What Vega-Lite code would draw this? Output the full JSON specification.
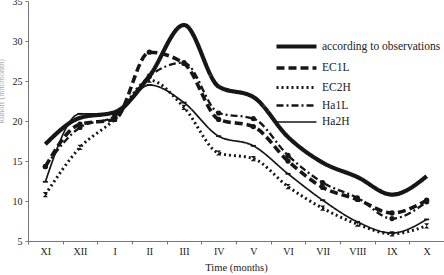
{
  "$schema": "https://vega.github.io/schema/vega-lite/v6.json",
  "width": 416,
  "height": 240,
  "autosize": "none",
  "padding": {"left": 28, "top": 1, "right": 0, "bottom": 34},
  "background": "white",
  "config": {
    "view": {"stroke": null},
    "font": "Liberation Serif",
    "axis": {"labelFont": "Liberation Serif", "titleFont": "Liberation Serif", "labelColor": "#222", "titleColor": "#222", "domainColor": "#777", "tickColor": "#777", "grid": false},
    "legend": {"labelFont": "Liberation Serif"}
  },
  "data": {
    "values": [
      {"month": "XI", "series": "according to observations", "value": 17.1},
      {"month": "XII", "series": "according to observations", "value": 20.4},
      {"month": "I", "series": "according to observations", "value": 21.1},
      {"month": "II", "series": "according to observations", "value": 25.6},
      {"month": "III", "series": "according to observations", "value": 32.0},
      {"month": "IV", "series": "according to observations", "value": 24.3},
      {"month": "V", "series": "according to observations", "value": 23.0},
      {"month": "VI", "series": "according to observations", "value": 18.0},
      {"month": "VII", "series": "according to observations", "value": 14.8},
      {"month": "VIII", "series": "according to observations", "value": 13.0},
      {"month": "IX", "series": "according to observations", "value": 10.8},
      {"month": "X", "series": "according to observations", "value": 13.1},

      {"month": "XI", "series": "EC1L", "value": 14.3},
      {"month": "XII", "series": "EC1L", "value": 19.6},
      {"month": "I", "series": "EC1L", "value": 20.2},
      {"month": "II", "series": "EC1L", "value": 28.6},
      {"month": "III", "series": "EC1L", "value": 27.2},
      {"month": "IV", "series": "EC1L", "value": 20.2},
      {"month": "V", "series": "EC1L", "value": 19.3},
      {"month": "VI", "series": "EC1L", "value": 15.0},
      {"month": "VII", "series": "EC1L", "value": 11.7},
      {"month": "VIII", "series": "EC1L", "value": 10.2},
      {"month": "IX", "series": "EC1L", "value": 8.5},
      {"month": "X", "series": "EC1L", "value": 10.1},

      {"month": "XI", "series": "EC2H", "value": 10.8},
      {"month": "XII", "series": "EC2H", "value": 16.7},
      {"month": "I", "series": "EC2H", "value": 20.2},
      {"month": "II", "series": "EC2H", "value": 25.1},
      {"month": "III", "series": "EC2H", "value": 21.7},
      {"month": "IV", "series": "EC2H", "value": 16.0},
      {"month": "V", "series": "EC2H", "value": 15.3},
      {"month": "VI", "series": "EC2H", "value": 11.8},
      {"month": "VII", "series": "EC2H", "value": 9.1},
      {"month": "VIII", "series": "EC2H", "value": 7.1},
      {"month": "IX", "series": "EC2H", "value": 5.9},
      {"month": "X", "series": "EC2H", "value": 6.9},

      {"month": "XI", "series": "Ha1L", "value": 14.3},
      {"month": "XII", "series": "Ha1L", "value": 19.2},
      {"month": "I", "series": "Ha1L", "value": 20.6},
      {"month": "II", "series": "Ha1L", "value": 25.6},
      {"month": "III", "series": "Ha1L", "value": 27.3},
      {"month": "IV", "series": "Ha1L", "value": 21.0},
      {"month": "V", "series": "Ha1L", "value": 20.3},
      {"month": "VI", "series": "Ha1L", "value": 15.7},
      {"month": "VII", "series": "Ha1L", "value": 12.3},
      {"month": "VIII", "series": "Ha1L", "value": 10.4},
      {"month": "IX", "series": "Ha1L", "value": 7.8},
      {"month": "X", "series": "Ha1L", "value": 9.9},

      {"month": "XI", "series": "Ha2H", "value": 12.4},
      {"month": "XII", "series": "Ha2H", "value": 20.9},
      {"month": "I", "series": "Ha2H", "value": 20.9},
      {"month": "II", "series": "Ha2H", "value": 24.5},
      {"month": "III", "series": "Ha2H", "value": 22.3},
      {"month": "IV", "series": "Ha2H", "value": 18.1},
      {"month": "V", "series": "Ha2H", "value": 16.9},
      {"month": "VI", "series": "Ha2H", "value": 13.4},
      {"month": "VII", "series": "Ha2H", "value": 10.1},
      {"month": "VIII", "series": "Ha2H", "value": 7.4},
      {"month": "IX", "series": "Ha2H", "value": 6.0},
      {"month": "X", "series": "Ha2H", "value": 7.7}
    ]
  },
  "encoding": {
    "x": {
      "field": "month",
      "type": "ordinal",
      "sort": ["XI", "XII", "I", "II", "III", "IV", "V", "VI", "VII", "VIII", "IX", "X"],
      "scale": {"type": "point", "padding": 0.5},
      "axis": {
        "title": "Time (months)",
        "titleFontSize": 10.5,
        "titleFontWeight": "normal",
        "titlePadding": 6,
        "labelFontSize": 10,
        "labelAngle": 0,
        "labelPadding": 2,
        "tickSize": 3,
        "tickOffset": -17.33,
        "labelOffset": 17.33
      }
    },
    "y": {
      "field": "value",
      "type": "quantitative",
      "scale": {"domain": [5, 35], "nice": false, "zero": false},
      "axis": {
        "values": [5, 10, 15, 20, 25, 30, 35],
        "title": "Runoff (mm/month)",
        "titleFontSize": 8,
        "titleFontWeight": "normal",
        "titleColor": "#aaa",
        "titleX": -27,
        "titleY": 90,
        "titleBaseline": "middle",
        "labelFontSize": 10,
        "labelPadding": 3,
        "tickSize": 3
      }
    }
  },
  "layer": [
    {
      "mark": {"type": "line", "interpolate": "monotone", "color": "#161616"},
      "encoding": {
        "detail": {"field": "series"},
        "strokeDash": {
          "field": "series",
          "type": "nominal",
          "scale": {
            "domain": ["according to observations", "EC1L", "EC2H", "Ha1L", "Ha2H"],
            "range": [[1, 0], [8, 4], [2, 3], [7, 3, 2, 3], [1, 0]]
          },
          "legend": {
            "title": null,
            "orient": "none",
            "legendX": 261,
            "legendY": 38,
            "padding": 0,
            "symbolType": "M-4,0H4",
            "symbolSize": 100,
            "symbolStrokeColor": "#161616",
            "labelOffset": 18,
            "labelFontSize": 11.5,
            "labelColor": "#222",
            "rowPadding": 5,
            "labelLimit": 300
          }
        },
        "strokeWidth": {
          "field": "series",
          "type": "nominal",
          "scale": {
            "domain": ["according to observations", "EC1L", "EC2H", "Ha1L", "Ha2H"],
            "range": [4.2, 1.7, 1.6, 1.6, 0.8]
          },
          "legend": {
            "title": null,
            "orient": "none",
            "legendX": 261,
            "legendY": 38,
            "padding": 0,
            "symbolType": "M-4,0H4",
            "symbolSize": 100,
            "symbolStrokeColor": "#161616",
            "labelOffset": 18,
            "labelFontSize": 11.5,
            "labelColor": "#222",
            "rowPadding": 5,
            "labelLimit": 300
          }
        }
      }
    },
    {
      "transform": [{"filter": "datum.series !== 'according to observations'"}],
      "mark": {"type": "point", "filled": true, "color": "#161616", "opacity": 1},
      "encoding": {
        "shape": {
          "field": "series",
          "type": "nominal",
          "scale": {
            "domain": ["EC1L", "EC2H", "Ha1L", "Ha2H"],
            "range": ["circle", "M-1,-1L1,-1L-1,1L1,1Z", "circle", "M-1,-0.35L1,-0.35L1,0.35L-1,0.35Z"]
          },
          "legend": null
        },
        "size": {
          "field": "series",
          "type": "nominal",
          "scale": {
            "domain": ["EC1L", "EC2H", "Ha1L", "Ha2H"],
            "range": [28, 26, 14, 24]
          },
          "legend": null
        }
      }
    }
  ]
}
